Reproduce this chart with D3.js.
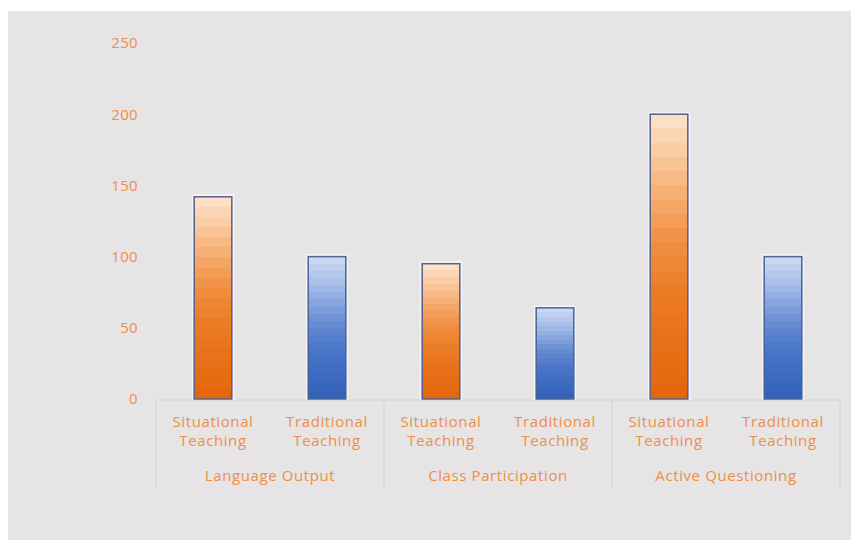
<!DOCTYPE html>
<html>
<head>
<meta charset="utf-8">
<script src="https://cdn.jsdelivr.net/npm/d3@7"></script>
<style>
  body { margin: 0; background: #fff; }
  text { font-family: "Open Sans", Lato, sans-serif; fill: #ed8f48; }
</style>
</head>
<body>
<script>
// data
var groups = ["Language Output", "Class Participation", "Active Questioning"];
var methods = ["Situational Teaching", "Traditional Teaching"];
var values = [142, 100, 95, 64, 200, 100];
var yTicks = [0, 50, 100, 150, 200, 250];

var w = 851, h = 540;
var mLeft = 156, mRight = 840, mTop = 43, mBottom = 399;

var svg = d3.select("body").append("svg")
    .attr("width", w)
    .attr("height", h);

// panel background
svg.append("rect")
    .attr("x", 8).attr("y", 11)
    .attr("width", w - 8).attr("height", h - 11)
    .attr("fill", "#e6e4e5");

var defs = svg.append("defs");

// banded gradients, light at top, dark at bottom
function bandGrad(id, cols) {
    var g = defs.append("linearGradient")
        .attr("id", id)
        .attr("x1", 0).attr("y1", 0).attr("x2", 0).attr("y2", 1);
    var n = 20;
    var interp = d3.interpolateRgbBasis(cols);
    for (var i = 0; i < n; i++) {
        var c = interp(i / (n - 1));
        g.append("stop").attr("offset", (i / n * 100) + "%").attr("stop-color", c);
        g.append("stop").attr("offset", ((i + 1) / n * 100) + "%").attr("stop-color", c);
    }
}
bandGrad("gOrange", ["#fde0c4", "#f7b278", "#ee842f", "#e9741c", "#e4670e"]);
bandGrad("gBlue", ["#c8d7f2", "#9ab3e4", "#5a82d0", "#4270c6", "#3462b8"]);

// scales
var cats = d3.range(values.length);
var x = d3.scaleBand().domain(cats).range([mLeft, mRight]).paddingInner(0.67).paddingOuter(0.335);
var y = d3.scaleLinear().domain([0, 250]).range([mBottom, mTop]);

// y axis labels
var yAxis = d3.axisLeft(y).tickValues(yTicks).tickSize(0).tickPadding(0);
var yg = svg.append("g")
    .attr("transform", "translate(138,0)")
    .call(yAxis);
yg.select(".domain").remove();
yg.selectAll("text")
    .attr("font-size", 15)
    .attr("font-family", "'Open Sans', Lato, sans-serif")
    .attr("letter-spacing", 0.3)
    .style("fill", "#ed8f48");

// category axis lines
svg.append("line")
    .attr("x1", mLeft).attr("x2", mRight)
    .attr("y1", mBottom + 1).attr("y2", mBottom + 1)
    .attr("stroke", "#d6d5d5").attr("stroke-width", 1);

var groupW = (mRight - mLeft) / groups.length;
d3.range(groups.length + 1).forEach(function (i) {
    svg.append("line")
        .attr("x1", mLeft + i * groupW).attr("x2", mLeft + i * groupW)
        .attr("y1", mBottom + 1).attr("y2", 488)
        .attr("stroke", "#d6d5d5").attr("stroke-width", 1);
});

// bar glow
svg.selectAll("rect.glow")
    .data(values)
    .enter().append("rect")
    .attr("class", "glow")
    .attr("x", function (d, i) { return x(i) - 1.5; })
    .attr("y", function (d) { return y(d) - 1.5; })
    .attr("width", x.bandwidth() + 3)
    .attr("height", function (d) { return mBottom - y(d) + 1.5; })
    .attr("fill", "none")
    .attr("stroke", "#ffffff")
    .attr("stroke-opacity", 0.6)
    .attr("stroke-width", 2);

// bars
svg.selectAll("rect.bar")
    .data(values)
    .enter().append("rect")
    .attr("class", "bar")
    .attr("x", function (d, i) { return x(i); })
    .attr("y", function (d) { return y(d); })
    .attr("width", x.bandwidth())
    .attr("height", function (d) { return mBottom - y(d); })
    .attr("fill", function (d, i) { return i % 2 === 0 ? "url(#gOrange)" : "url(#gBlue)"; })
    .attr("stroke", function (d, i) { return i % 2 === 0 ? "#56608a" : "#4a6296"; })
    .attr("stroke-width", 1.5);

// category labels
cats.forEach(function (i) {
    var words = methods[i % 2].split(" ");
    var cx = x(i) + x.bandwidth() / 2;
    var t = svg.append("text")
        .attr("x", cx)
        .attr("y", 427)
        .attr("text-anchor", "middle")
        .attr("font-size", 15)
        .attr("letter-spacing", 0.6);
    t.append("tspan").attr("x", cx).attr("dy", 0).text(words[0]);
    t.append("tspan").attr("x", cx).attr("dy", 19).text(words[1]);
});

// group labels
groups.forEach(function (g, i) {
    svg.append("text")
        .attr("x", mLeft + groupW * (i + 0.5))
        .attr("y", 481)
        .attr("text-anchor", "middle")
        .attr("font-size", 15)
        .attr("letter-spacing", 0.6)
        .text(g);
});
</script>
</body>
</html>
